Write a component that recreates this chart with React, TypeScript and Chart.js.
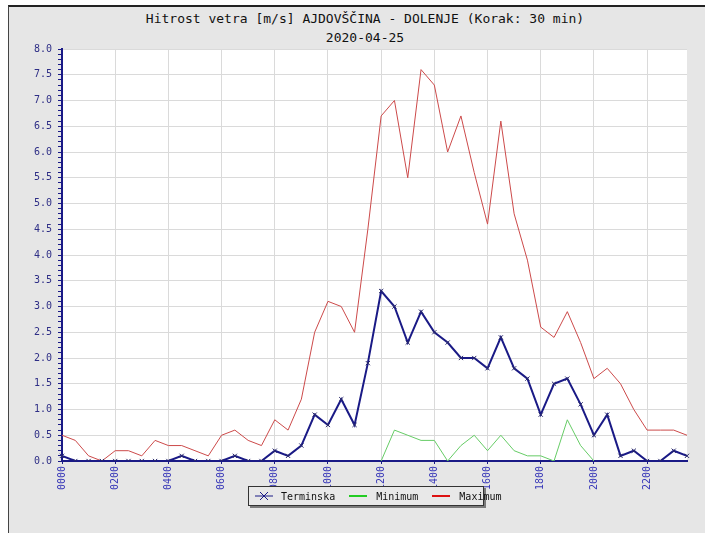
import React, { useEffect, useRef } from "react";
import { Chart, registerables } from "chart.js";

Chart.register(...registerables);

const TITLE = "Hitrost vetra [m/s] AJDOVŠČINA - DOLENJE (Korak: 30 min)";
const SUBTITLE = "2020-04-25";

const times = [
  "0000", "0030", "0100", "0130", "0200", "0230", "0300", "0330",
  "0400", "0430", "0500", "0530", "0600", "0630", "0700", "0730",
  "0800", "0830", "0900", "0930", "1000", "1030", "1100", "1130",
  "1200", "1230", "1300", "1330", "1400", "1430", "1500", "1530",
  "1600", "1630", "1700", "1730", "1800", "1830", "1900", "1930",
  "2000", "2030", "2100", "2130", "2200", "2230", "2300", "2330",
];

const terminska = [
  0.1, 0, 0, 0, 0, 0, 0, 0,
  0, 0.1, 0, 0, 0, 0.1, 0, 0,
  0.2, 0.1, 0.3, 0.9, 0.7, 1.2, 0.7, 1.9,
  3.3, 3.0, 2.3, 2.9, 2.5, 2.3, 2.0, 2.0,
  1.8, 2.4, 1.8, 1.6, 0.9, 1.5, 1.6, 1.1,
  0.5, 0.9, 0.1, 0.2, 0, 0, 0.2, 0.1,
];

const minimum = [
  null, null, null, null, null, null, null, null,
  null, null, null, null, null, null, null, null,
  null, null, null, null, null, null, null, null,
  0, 0.6, 0.5, 0.4, 0.4, 0, 0.3, 0.5,
  0.2, 0.5, 0.2, 0.1, 0.1, 0, 0.8, 0.3,
  0, null, null, null, null, null, null, null,
];

const maximum = [
  0.5, 0.4, 0.1, 0, 0.2, 0.2, 0.1, 0.4,
  0.3, 0.3, 0.2, 0.1, 0.5, 0.6, 0.4, 0.3,
  0.8, 0.6, 1.2, 2.5, 3.1, 3.0, 2.5, 4.5,
  6.7, 7.0, 5.5, 7.6, 7.3, 6.0, 6.7, 5.6,
  4.6, 6.6, 4.8, 3.9, 2.6, 2.4, 2.9, 2.3,
  1.6, 1.8, 1.5, 1.0, 0.6, 0.6, 0.6, 0.5,
];

const NAVY = "#1a1a86";
const RED = "#cc4a4a";
const GREEN = "#66cc66";
const MONO = "'DejaVu Sans Mono', 'Liberation Mono', monospace";

const plotBg = {
  id: "plotBg",
  beforeDraw(chart: any) {
    const { ctx, chartArea } = chart;
    ctx.save();
    ctx.fillStyle = "#ffffff";
    ctx.fillRect(chartArea.left, chartArea.top, chartArea.right - chartArea.left, chartArea.bottom - chartArea.top);
    ctx.restore();
  },
};

export default function App() {
  const ref = useRef<HTMLCanvasElement | null>(null);

  useEffect(() => {
    if (!ref.current) return;
    const chart = new Chart(ref.current, {
      type: "line",
      data: {
        labels: times,
        datasets: [
          {
            label: "Terminska",
            data: terminska,
            borderColor: NAVY,
            backgroundColor: NAVY,
            borderWidth: 2,
            pointStyle: "crossRot",
            pointRadius: 3,
            pointBorderWidth: 1,
            pointBorderColor: "#2a2a6a",
            tension: 0,
          },
          {
            label: "Minimum",
            data: minimum,
            borderColor: GREEN,
            backgroundColor: GREEN,
            borderWidth: 1,
            pointRadius: 0,
            spanGaps: false,
            tension: 0,
          },
          {
            label: "Maximum",
            data: maximum,
            borderColor: RED,
            backgroundColor: RED,
            borderWidth: 1,
            pointRadius: 0,
            tension: 0,
          },
        ],
      },
      options: {
        animation: false,
        responsive: true,
        maintainAspectRatio: false,
        layout: { padding: { top: 49, right: 18, left: 0, bottom: 0 } },
        plugins: {
          legend: { display: false },
          title: { display: false },
          tooltip: { enabled: false },
        },
        scales: {
          x: {
            type: "category",
            offset: false,
            afterFit: (s: any) => {
              s.height = 72;
            },
            border: { color: NAVY, width: 2 },
            grid: {
              color: (c: any) => (c.index % 4 === 0 && c.index > 0 ? "#dadada" : "rgba(0,0,0,0)"),
              tickColor: (c: any) => (c.index % 4 === 0 ? NAVY : "rgba(0,0,0,0)"),
              tickLength: 3,
            },
            ticks: {
              autoSkip: false,
              minRotation: 90,
              maxRotation: 90,
              padding: 2,
              color: "#3838b8",
              font: { family: MONO, size: 10 },
              callback: (_v: any, i: number) => (i % 4 === 0 ? times[i] : ""),
            },
          },
          y: {
            min: 0,
            max: 8,
            afterFit: (s: any) => {
              s.width = 62;
            },
            border: { color: NAVY, width: 2 },
            grid: {
              color: (c: any) => {
                const t = Math.round(c.tick.value * 10);
                return t % 5 === 0 && t > 0 ? "#dadada" : "rgba(0,0,0,0)";
              },
              tickColor: NAVY,
              tickLength: 4,
            },
            ticks: {
              stepSize: 0.1,
              autoSkip: false,
              padding: 6,
              color: "#2e2e86",
              font: { family: MONO, size: 10 },
              callback: (v: any) => {
                const t = Math.round(Number(v) * 10);
                return t % 5 === 0 ? (t / 10).toFixed(1) : "";
              },
            },
          },
        },
      },
      plugins: [plotBg],
    });
    return () => chart.destroy();
  }, []);

  const legendItem: React.CSSProperties = { display: "flex", alignItems: "center" };

  return (
    <div style={{ position: "fixed", left: 0, top: 0, width: 705, height: 533, background: "#ffffff", overflow: "hidden" }}>
      <div
        style={{
          position: "absolute",
          left: 8,
          top: 5,
          right: 0,
          bottom: 0,
          background: "#e6e6e6",
          borderTop: "2px solid #222",
          borderLeft: "1px solid #444",
        }}
      />
      <div
        style={{
          position: "absolute",
          left: 0,
          top: 9,
          width: 730,
          textAlign: "center",
          fontFamily: MONO,
          fontSize: 13,
          lineHeight: "19px",
          color: "#111",
        }}
      >
        <div>{TITLE}</div>
        <div>{SUBTITLE}</div>
      </div>
      <div style={{ position: "absolute", left: 0, top: 0, width: 705, height: 533 }}>
        <canvas ref={ref} />
      </div>
      <div
        style={{
          position: "absolute",
          left: 248,
          top: 486,
          width: 234,
          height: 18,
          border: "1px solid #333",
          background: "#e8e8e8",
          boxShadow: "2px 2px 0 #7a7a7a",
          display: "flex",
          alignItems: "center",
          fontFamily: MONO,
          fontSize: 10,
          color: "#111",
          boxSizing: "content-box",
        }}
      >
        <div style={{ ...legendItem, marginLeft: 6 }}>
          <svg width="18" height="10">
            <line x1="0" y1="5" x2="18" y2="5" stroke={NAVY} strokeWidth="1" />
            <line x1="5" y1="1" x2="13" y2="9" stroke={NAVY} strokeWidth="1" />
            <line x1="13" y1="1" x2="5" y2="9" stroke={NAVY} strokeWidth="1" />
          </svg>
          <span style={{ marginLeft: 8 }}>Terminska</span>
        </div>
        <div style={{ ...legendItem, marginLeft: 14 }}>
          <svg width="18" height="10">
            <line x1="0" y1="5" x2="18" y2="5" stroke="#22cc22" strokeWidth="2" />
          </svg>
          <span style={{ marginLeft: 9 }}>Minimum</span>
        </div>
        <div style={{ ...legendItem, marginLeft: 14 }}>
          <svg width="18" height="10">
            <line x1="0" y1="5" x2="18" y2="5" stroke="#dd1111" strokeWidth="2" />
          </svg>
          <span style={{ marginLeft: 9 }}>Maximum</span>
        </div>
      </div>
    </div>
  );
}
